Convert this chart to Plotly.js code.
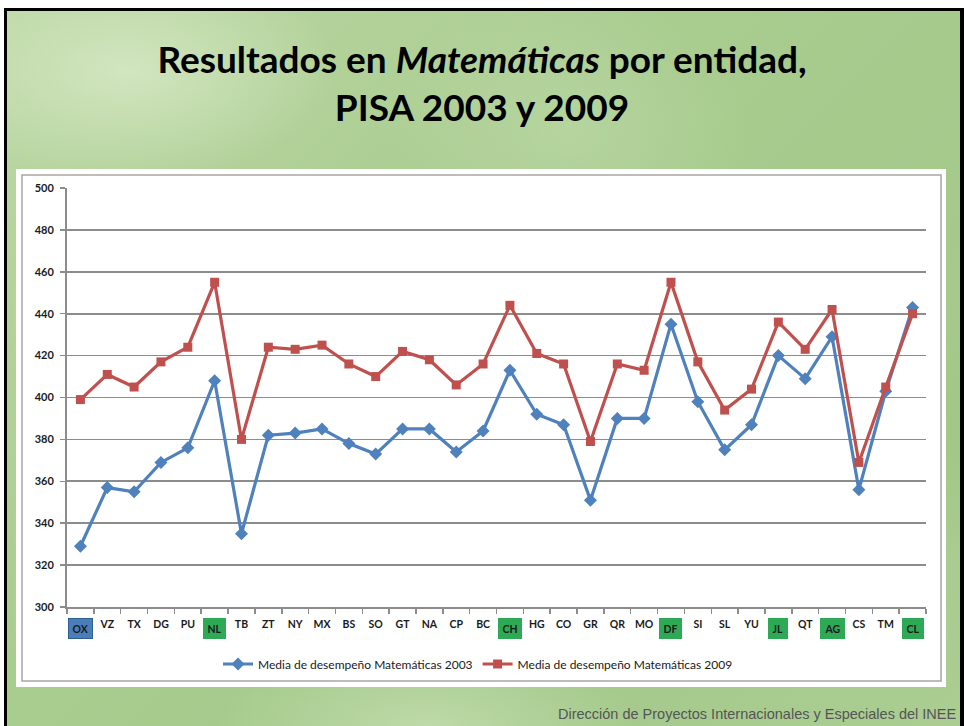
<!DOCTYPE html>
<html>
<head>
<meta charset="utf-8">
<script src="https://cdn.plot.ly/plotly-3.0.1.min.js"></script>
<style>
  html, body { margin: 0; padding: 0; width: 964px; height: 726px; overflow: hidden; background: #ffffff; }
  #frame {
    position: absolute; left: 4px; top: 8px; width: 960px; height: 730px;
    box-sizing: border-box; border: 3px solid #000; border-right-width: 4px;
    background:
      radial-gradient(ellipse 300px 160px at 120px 60px, rgba(214,232,196,0.85), rgba(214,232,196,0) 70%),
      radial-gradient(ellipse 260px 200px at 560px 120px, rgba(190,218,170,0.6), rgba(190,218,170,0) 70%),
      radial-gradient(ellipse 300px 120px at 420px 715px, rgba(200,225,180,0.7), rgba(200,225,180,0) 70%),
      radial-gradient(ellipse 220px 180px at 900px 420px, rgba(150,195,120,0.5), rgba(150,195,120,0) 70%),
      linear-gradient(135deg, #bcd8a6 0%, #a9cc8f 40%, #a4c98b 70%, #abcd92 100%);
  }
  #chart { position: absolute; left: 0; top: 0; width: 964px; height: 726px; }
</style>
</head>
<body>
<div id="frame"></div>
<div id="chart"></div>
<script>
// ---- data ----
const categories = ["OX","VZ","TX","DG","PU","NL","TB","ZT","NY","MX","BS","SO","GT","NA","CP","BC",
                    "CH","HG","CO","GR","QR","MO","DF","SI","SL","YU","JL","QT","AG","CS","TM","CL"];
const math2003 = [329,357,355,369,376,408,335,382,383,385,378,373,385,385,374,384,
                  413,392,387,351,390,390,435,398,375,387,420,409,429,356,403,443];
const math2009 = [399,411,405,417,424,455,380,424,423,425,416,410,422,418,406,416,
                  444,421,416,379,416,413,455,417,394,404,436,423,442,369,405,440];
const seriesNames = ["Media de desempeño Matemáticas 2003", "Media de desempeño Matemáticas 2009"];
const blueHighlight = ["OX"];
const greenHighlight = ["NL","CH","DF","JL","AG","CL"];
const yTicks = [300,320,340,360,380,400,420,440,460,480,500];

// ---- build ----
const highlighted = blueHighlight.concat(greenHighlight);
const tickText = categories.map(c => highlighted.includes(c) ? "" : c);

const fam = "Lato, 'Open Sans', sans-serif";
const xFont = {family: fam, size: 10.5, color: "#1a1a1a", weight: 700};
const yFont = {family: fam, size: 11, color: "#1a1a1a", weight: 700};

const traces = [
  {
    x: categories, y: math2003, name: seriesNames[0], type: "scatter", mode: "lines+markers",
    line: {color: "#4F81BD", width: 3.2},
    marker: {symbol: "diamond", size: 10, color: "#4F81BD"}
  },
  {
    x: categories, y: math2009, name: seriesNames[1], type: "scatter", mode: "lines+markers",
    line: {color: "#C0504D", width: 3.2},
    marker: {symbol: "square", size: 9, color: "#C0504D"}
  }
];

const annotations = [];
highlighted.forEach(c => {
  const isBlue = blueHighlight.includes(c);
  annotations.push({
    x: c, xref: "x", y: -0.051, yref: "paper", yanchor: "middle",
    text: "<b>" + c + "</b>", showarrow: false,
    font: {family: fam, size: 10.5, color: "#1a1a1a"},
    bgcolor: isBlue ? "#4A7EBB" : "#2EAA57",
    bordercolor: isBlue ? "#2F5E92" : "#2EAA57", borderwidth: 1, borderpad: 3.5
  });
});
annotations.push({
  text: "Dirección de Proyectos Internacionales y Especiales del INEE",
  xref: "paper", yref: "paper", x: (958 - 67) / 859, xanchor: "right",
  y: (607 - 714) / 419, yanchor: "middle", showarrow: false,
  font: {family: "'Liberation Sans', Arial, sans-serif", size: 14.5, color: "#555555"}
});

const shapes = [
  {type: "rect", xref: "paper", yref: "paper", layer: "below",
   x0: -0.0594, x1: 1.0233, y0: -0.1909, y1: 1.0453,
   fillcolor: "#ffffff", line: {width: 0}},
  {type: "rect", xref: "paper", yref: "paper", layer: "below",
   x0: -0.0524, x1: 1.0175, y0: -0.1766, y1: 1.031,
   fillcolor: "rgba(0,0,0,0)", line: {color: "#a6a6a6", width: 1.5}}
];

const layout = {
  width: 964, height: 726,
  margin: {l: 67, r: 38, t: 188, b: 119},
  paper_bgcolor: "rgba(0,0,0,0)",
  plot_bgcolor: "#ffffff",
  title: {
    text: "<b>Resultados en <i>Matemáticas</i> por entidad,<br>PISA 2003 y 2009</b>",
    font: {family: fam, size: 37, color: "#000000"},
    x: 0.5, xanchor: "center", xref: "container",
    y: 1 - 72.5 / 726, yanchor: "middle", yref: "container"
  },
  xaxis: {
    type: "category", tickson: "boundaries", tickangle: 0,
    tickmode: "array", tickvals: categories, ticktext: tickText,
    ticks: "outside", ticklen: 5, tickwidth: 1.5, tickcolor: "#8c8c8c",
    showline: true, linecolor: "#8c8c8c", linewidth: 2,
    showgrid: false, zeroline: false,
    tickfont: xFont, ticklabelstandoff: 6,
    range: [-0.5, categories.length - 0.5], fixedrange: true
  },
  yaxis: {
    range: [300, 500], tickmode: "array", tickvals: yTicks,
    ticks: "outside", ticklen: 5, tickwidth: 1.5, tickcolor: "#8c8c8c",
    showline: true, linecolor: "#8c8c8c", linewidth: 2,
    showgrid: true, gridcolor: "#8c8c8c", gridwidth: 1.6,
    zeroline: false, tickfont: yFont, ticklabelstandoff: 4, fixedrange: true
  },
  showlegend: true,
  legend: {
    orientation: "h", x: (478 - 67) / 859, xanchor: "center",
    y: (607 - 664) / 419, yanchor: "middle",
    font: {family: fam, size: 12, color: "#1a1a1a"},
    bgcolor: "rgba(0,0,0,0)", itemwidth: 30, tracegroupgap: 0
  },
  annotations: annotations,
  shapes: shapes
};

Plotly.newPlot("chart", traces, layout, {displayModeBar: false, staticPlot: true});
</script>
</body>
</html>
